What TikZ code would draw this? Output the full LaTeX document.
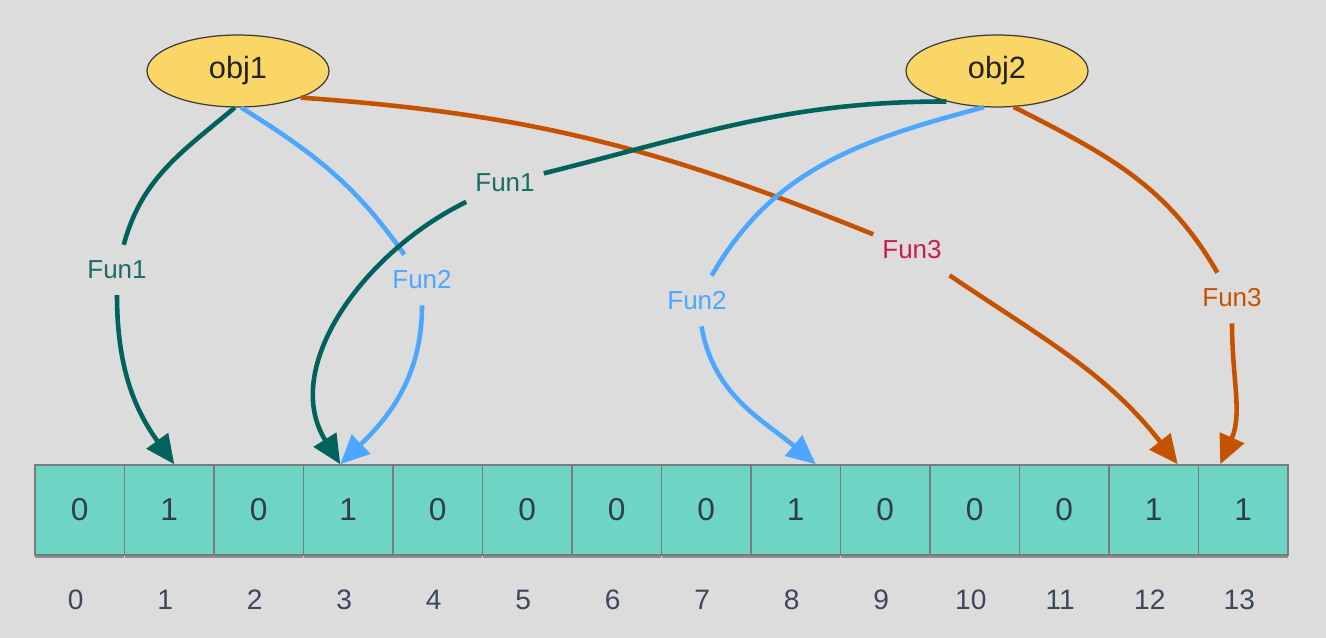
\documentclass[tikz,border=0pt]{standalone}
\usepackage{fontspec}
\setmainfont{Liberation Sans}
\usetikzlibrary{arrows.meta,shapes.geometric,shadows}
\definecolor{bgc}{RGB}{220,220,220}
\definecolor{tealc}{RGB}{0,98,90}
\definecolor{tealtxt}{RGB}{25,110,100}
\definecolor{bluec}{RGB}{77,166,255}
\definecolor{orangec}{RGB}{197,82,0}
\definecolor{crimsonc}{RGB}{200,30,70}
\definecolor{cellfill}{RGB}{110,212,196}
\definecolor{cellborder}{RGB}{120,124,124}
\definecolor{objfill}{RGB}{250,214,102}
\definecolor{objborder}{RGB}{60,60,60}
\definecolor{objtext}{RGB}{35,35,35}
\definecolor{digitc}{RGB}{50,60,80}
\definecolor{idxc}{RGB}{60,70,95}
\begin{document}
\begin{tikzpicture}[x=0.02cm,y=-0.02cm,
  seg/.style={line width=2.6pt},
  conn/.style={line width=2.6pt,-{Triangle[length=0.58cm,width=0.52cm]}},
  lab/.style={font=\fontsize{14.8}{17}\selectfont,inner xsep=5pt,inner ysep=9pt},
  objnode/.style={ellipse,draw=objborder,line width=0.7pt,fill=objfill,minimum width=3.64cm,minimum height=1.44cm,inner sep=0pt,font=\fontsize{17.5}{20}\selectfont,text=objtext},
  cell/.style={rectangle,draw=cellborder,line width=0.9pt,fill=cellfill,minimum width=1.79cm,minimum height=1.8cm,inner sep=0pt,font=\fontsize{18}{20}\selectfont,text=digitc,drop shadow={shadow xshift=0pt,shadow yshift=-0.06cm,opacity=0.35,fill=black}},
  idx/.style={font=\fontsize{16}{18}\selectfont,text=idxc}]
\fill[bgc] (0,0) rectangle (1326,638);
\useasboundingbox (0,0) rectangle (1326,638);

% array
\foreach \v [count=\i from 0] in {0,1,0,1,0,0,0,0,1,0,0,0,1,1} {
  \node[cell] (c\i) at ({35+89.5*(\i+0.5)},510) {\v};
  \node[idx] (n\i) at ({31+89.5*(\i+0.5)},600) {\i};
}

% objects
\node[objnode] (obj1) at (238,71) {obj1};
\node[objnode] (obj2) at (997,71) {obj2};

% labels
\node[lab,text=tealtxt] (l1) at (117,270) {Fun1};
\node[lab,text=bluec] (l2) at (422,280) {Fun2};
\node[lab,text=tealtxt] (l3) at (505,183) {Fun1};
\node[lab,text=bluec] (l4) at (697,301) {Fun2};
\node[lab,text=crimsonc] (l5) at (912,250) {Fun3};
\node[lab,text=orangec] (l6) at (1232,298) {Fun3};

% obj1 -> Fun1 -> cell 1
\draw[seg,tealc] (obj1.265) to[out=220,in=75] (l1);
\draw[conn,tealc] (l1) to[out=270,in=126] ([xshift=0.1cm]c1.north);
% obj1 -> Fun2 -> cell 3
\draw[seg,bluec] (obj1.-85) to[out=-32,in=125] (l2);
\draw[conn,bluec] (l2) to[out=270,in=44] ([xshift=-0.16cm]c3.north);
% obj1 -> Fun3 -> cell 12
\draw[seg,orangec] (obj1.-23) to[out=-4,in=158] (l5);
\draw[conn,orangec] (l5) to[out=-34,in=128] ([xshift=0.48cm]c12.north);
% obj2 -> Fun1 -> cell 3
\draw[seg,tealc] (obj2.211) to[out=180,in=14] (l3);
\draw[conn,tealc] (l3) to[out=206,in=122] ([xshift=-0.16cm]c3.north);
% obj2 -> Fun2 -> cell 8
\draw[seg,bluec] (obj2.250) to[out=195,in=60] (l4);
\draw[conn,bluec] (l4) to[out=-80,in=140] ([xshift=0.4cm]c8.north);
% obj2 -> Fun3 -> cell 13
\draw[seg,orangec] (obj2.-65) to[out=-27,in=120] (l6);
\draw[conn,orangec] (l6) to[out=270,in=66] ([xshift=-0.46cm]c13.north);
\end{tikzpicture}
\end{document}
